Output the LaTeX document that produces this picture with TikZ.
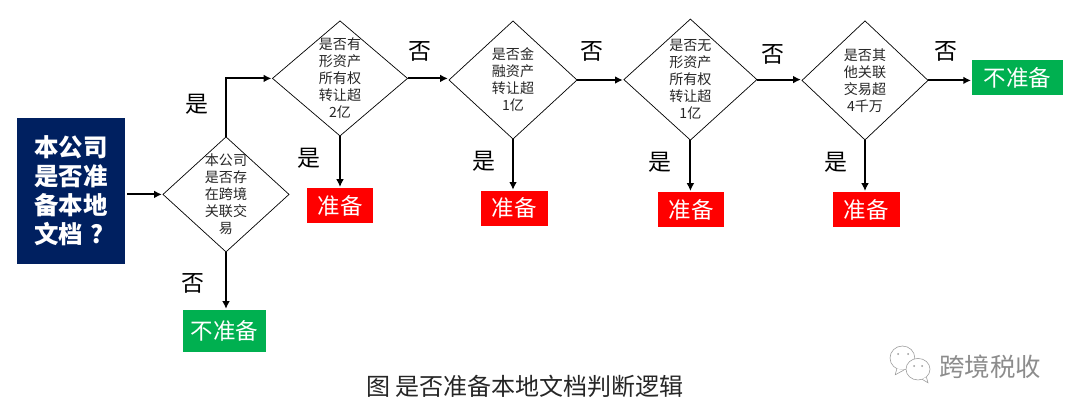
\documentclass[tikz,border=0pt]{standalone}
\usepackage{fontspec}
\setmainfont{Noto Sans CJK SC}
\usetikzlibrary{arrows.meta,positioning,shapes.geometric}

\begin{document}
\begin{tikzpicture}[
  decide/.style={diamond,draw,line width=0.5pt,inner sep=0pt,outer sep=0pt},
  dtext/.style={font=\fontsize{10}{12.1}\selectfont,align=center,text=black!85,inner sep=0pt},
  startbox/.style={rectangle,fill=navy,text=white,inner sep=0pt,outer sep=0pt,align=left,
    minimum width=2.7cm,minimum height=3.65cm,font=\fontsize{17.4}{20.6}\selectfont\bfseries},
  yesbox/.style={rectangle,fill=red,text=white,inner sep=0pt,outer sep=0pt,
    minimum width=1.66cm,minimum height=0.875cm,font=\fontsize{16}{18}\selectfont},
  nobox/.style={rectangle,fill=okgreen,text=white,inner sep=0pt,outer sep=0pt,
    minimum height=0.875cm,font=\fontsize{16}{18}\selectfont},
  answer/.style={font=\fontsize{16.3}{18}\selectfont,inner sep=0pt},
  wire/.style={line width=1.4pt,-{Latex[length=5.5pt,width=5.5pt]},shorten >=0.8pt},
  bubble/.style={draw=black!40,line width=0.4pt,fill=white}]
\definecolor{navy}{RGB}{0,32,96}
\definecolor{okgreen}{RGB}{0,176,80}

\useasboundingbox (0,0) rectangle (26.9,10.35);

% --- start -------------------------------------------------------------
\node[startbox] (start) at (1.775,5.575) {本公司\\是否准\\备本地\\文档\hspace{0.3em}?};
\coordinate (startout) at (3.175,5.49);

% --- decisions ---------------------------------------------------------
\node[decide,minimum width=3.15cm,minimum height=2.875cm] (cross) at (5.65,5.49) {};
\node[dtext] (crosstext) at (cross) {本公司\\是否存\\在跨境\\关联交\\易};
\node[decide,minimum width=3.375cm,minimum height=2.875cm] (tangible) at (8.5,8.39) {};
\node[dtext] (tangibletext) at (tangible) {是否有\\形资产\\所有权\\转让超\\2亿};
\node[decide,minimum width=3.2cm,minimum height=2.95cm] (finance) at (12.825,8.35) {};
\node[dtext] (financetext) at (finance) {是否金\\融资产\\转让超\\1亿};
\node[decide,minimum width=3.325cm,minimum height=3.025cm] (intangible) at (17.26,8.36) {};
\node[dtext] (intangibletext) at (intangible) {是否无\\形资产\\所有权\\转让超\\1亿};
\node[decide,minimum width=3.15cm,minimum height=2.975cm] (other) at (21.625,8.34) {};
\node[dtext] (othertext) at (other) {是否其\\他关联\\交易超\\4千万};

% --- results -----------------------------------------------------------
\node[nobox,minimum width=2.075cm,minimum height=1.05cm] (nobottom) at (5.61,2.075) {不准备};
\node[yesbox] (yes1) at (8.5,5.21) {准备};
\node[yesbox] (yes2) at (12.86,5.14) {准备};
\node[yesbox] (yes3) at (17.275,5.11) {准备};
\node[yesbox] (yes4) at (21.66,5.11) {准备};
\node[nobox,minimum width=2.275cm] (notop) at (25.44,8.41) {不准备};

% --- connectors --------------------------------------------------------
\draw[wire] (startout) -- (cross.west);
\draw[wire] (cross.north) |- (tangible.west);
\draw[wire] (cross.south) -- (cross.south |- nobottom.north);
\draw[wire] (tangible.south) -- (tangible.south |- yes1.north);
\draw[wire] (tangible.east) -- (tangible.east -| finance.west);
\draw[wire] (finance.south) -- (finance.south |- yes2.north);
\draw[wire] (finance.east) -- (finance.east -| intangible.west);
\draw[wire] (intangible.south) -- (intangible.south |- yes3.north);
\draw[wire] (intangible.east) -- (intangible.east -| other.west);
\draw[wire] (other.south) -- (other.south |- yes4.north);
\draw[wire] (other.east) -- (other.east -| notop.west);

% --- answers -----------------------------------------------------------
\node[answer] (a1) at (4.925,7.75) {是};
\node[answer] (a2) at (4.825,3.275) {否};
\node[answer] (a3) at (7.725,6.4) {是};
\node[answer] (a4) at (10.5,9.075) {否};
\node[answer] (a5) at (12.09,6.325) {是};
\node[answer] (a6) at (14.81,9.075) {否};
\node[answer] (a7) at (16.5,6.3) {是};
\node[answer] (a8) at (19.325,9.0) {否};
\node[answer] (a9) at (20.89,6.3) {是};
\node[answer] (a10) at (23.65,9.075) {否};

% --- caption and mark --------------------------------------------------
\node[font=\fontsize{17.1}{20}\selectfont,text=black!85,inner sep=0pt] (caption) at (13.125,0.7) {图 是否准备本地文档判断逻辑};
\node[font=\fontsize{18.1}{20}\selectfont,text=black!45,inner sep=0pt] (mark) at (24.75,1.17) {跨境税收};
\draw[bubble] (22.56,1.4) ellipse (0.31 and 0.3);
\draw[bubble] (22.42,1.13) -- (22.38,0.98) -- (22.6,1.1);
\draw[bubble] (22.95,1.12) ellipse (0.3 and 0.27);
\draw[bubble] (23.05,0.87) -- (23.2,0.78) -- (23.16,0.92);
\fill[black!40] (22.45,1.5) circle (0.025) (22.7,1.5) circle (0.025)
  (22.85,1.2) circle (0.025) (23.05,1.2) circle (0.025);
\end{tikzpicture}
\end{document}
